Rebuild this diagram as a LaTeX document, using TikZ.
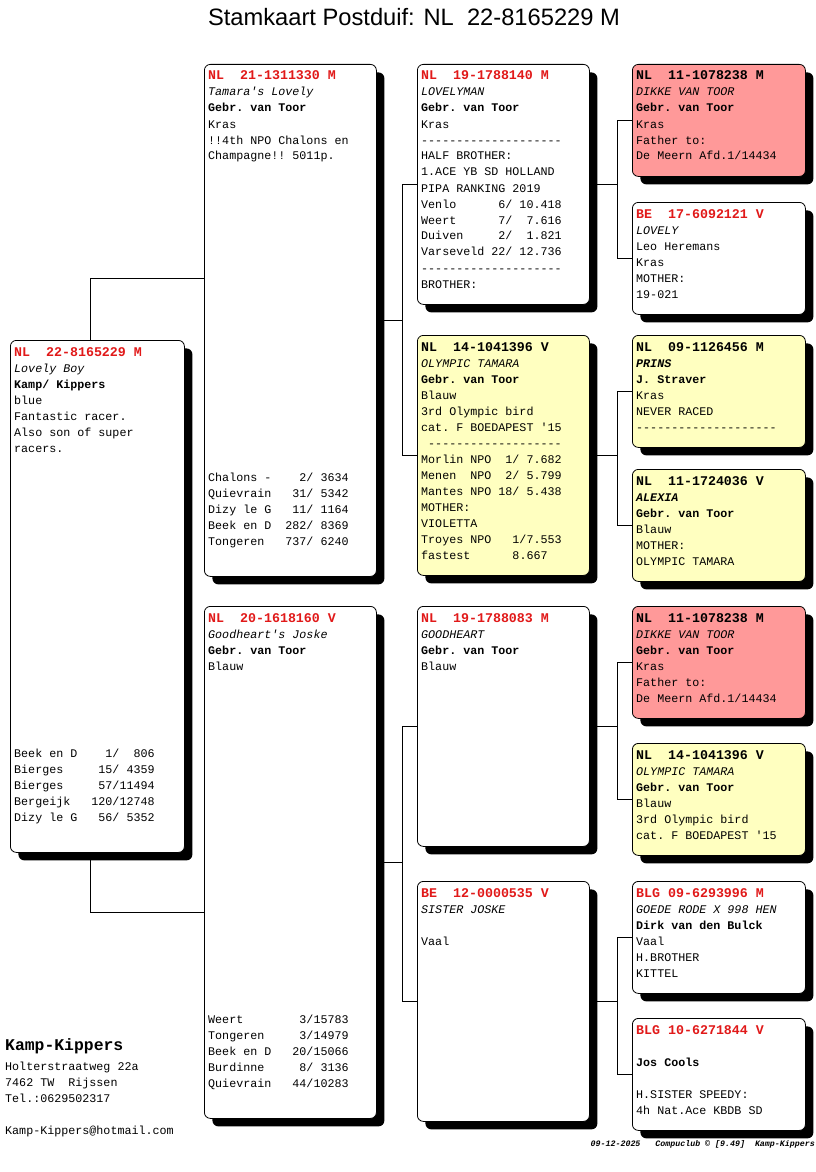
\documentclass[tikz,border=0pt]{standalone}
\usepackage{fontspec}
\usetikzlibrary{shadows,backgrounds}
\newfontfamily\cour{Liberation Mono}
\newfontfamily\arial{Liberation Sans}
\definecolor{ringred}{RGB}{225,25,25}
\definecolor{cockred}{RGB}{255,153,153}
\definecolor{henyellow}{RGB}{255,255,192}

\newcommand\hd{\fontsize{13.3}{16}\selectfont\bfseries}
\newcommand\ring[1]{{\color{ringred}\hd #1}}
\newcommand\ringbk[1]{{\hd #1}}
\newcommand\lines[1]{\parbox[t]{190pt}{\raggedright\frenchspacing\leavevmode #1}}
\newcommand\results[1]{\parbox[b]{190pt}{\raggedright\frenchspacing\leavevmode #1}}

\begin{document}
\begin{tikzpicture}[x=1pt,y=-1pt]
\tikzset{
card/.style={rectangle, rounded corners=6pt, draw=black, line width=0.8pt, fill=white, anchor=north west, inner sep=0pt,
  drop shadow={shadow xshift=8pt, shadow yshift=-8pt, fill=black, opacity=1}},
cock/.style={card, fill=cockred},
hen/.style={card, fill=henyellow},
bigcard/.style={minimum width=172pt, minimum height=512pt},
midcard/.style={minimum width=172pt, minimum height=240pt},
smallcard/.style={minimum width=173pt, minimum height=112pt},
txt/.style={inner sep=0pt, anchor=base west, font=\cour\fontsize{11.7}{16}\selectfont},
link/.style={draw=black, line width=0.8pt},
}
\useasboundingbox (0,0) rectangle (816,1172);

\node[anchor=base, font=\arial\fontsize{23.7}{28}\selectfont] (title) at (414,26) {Stamkaart Postduif: NL\ \ 22-8165229 M};

% pigeon
\node[card, bigcard, minimum width=174pt] (me) at (10,340) {};
\node[txt] (me txt) at ([xshift=4pt,yshift=-16pt]me.north west) {\lines{\ring{NL~~22-8165229 M}\\
 {\itshape Lovely Boy}\\ {\bfseries Kamp/ Kippers}\\ blue\\ Fantastic racer.\\ Also son of super\\ racers.}};
\node[txt] (me res) at ([xshift=4pt,yshift=31pt]me.south west) {\results{Beek en D~~~~1/~~806\\
 Bierges~~~~~15/ 4359\\ Bierges~~~~~57/11494\\ Bergeijk~~~120/12748\\ Dizy le G~~~56/ 5352}};

% parents
\node[card, bigcard] (sire) at (204,64) {};
\node[txt] (sire txt) at ([xshift=4pt,yshift=-16pt]sire.north west) {\lines{\ring{NL~~21-1311330 M}\\
 {\itshape Tamara's Lovely}\\ {\bfseries Gebr. van Toor}\\ Kras\\ !!4th NPO Chalons en\\ Champagne!! 5011p.}};
\node[txt] (sire res) at ([xshift=4pt,yshift=31pt]sire.south west) {\results{Chalons -~~~~2/ 3634\\
 Quievrain~~~31/ 5342\\ Dizy le G~~~11/ 1164\\ Beek en D~~282/ 8369\\ Tongeren~~~737/ 6240}};

\node[card, bigcard] (dam) at (204,606) {};
\node[txt] (dam txt) at ([xshift=4pt,yshift=-16pt]dam.north west) {\lines{\ring{NL~~20-1618160 V}\\
 {\itshape Goodheart's Joske}\\ {\bfseries Gebr. van Toor}\\ Blauw}};
\node[txt] (dam res) at ([xshift=4pt,yshift=31pt]dam.south west) {\results{Weert~~~~~~~~3/15783\\
 Tongeren~~~~~3/14979\\ Beek en D~~~20/15066\\ Burdinne~~~~~8/ 3136\\ Quievrain~~~44/10283}};

% grandparents
\node[card, midcard] (ss) at (417,64) {};
\node[txt] (ss txt) at ([xshift=4pt,yshift=-16pt]ss.north west) {\lines{\ring{NL~~19-1788140 M}\\
 {\itshape LOVELYMAN}\\ {\bfseries Gebr. van Toor}\\ Kras\\ --------------------\\ HALF BROTHER:\\
 1.ACE YB SD HOLLAND\\ PIPA RANKING 2019\\ Venlo~~~~~~6/ 10.418\\ Weert~~~~~~7/~~7.616\\
 Duiven~~~~~2/~~1.821\\ Varseveld 22/ 12.736\\ --------------------\\ BROTHER:}};

\node[hen, midcard] (sd) at (417,335) {};
\node[txt] (sd txt) at ([xshift=4pt,yshift=-16pt]sd.north west) {\lines{\ringbk{NL~~14-1041396 V}\\
 {\itshape OLYMPIC TAMARA}\\ {\bfseries Gebr. van Toor}\\ Blauw\\ 3rd Olympic bird\\ cat. F BOEDAPEST '15\\
 \hphantom{-}-------------------\\ Morlin NPO~~1/ 7.682\\ Menen~~NPO~~2/ 5.799\\ Mantes NPO 18/ 5.438\\
 MOTHER:\\ VIOLETTA\\ Troyes NPO~~~1/7.553\\ fastest~~~~~~8.667}};

\node[card, midcard] (ds) at (417,606) {};
\node[txt] (ds txt) at ([xshift=4pt,yshift=-16pt]ds.north west) {\lines{\ring{NL~~19-1788083 M}\\
 {\itshape GOODHEART}\\ {\bfseries Gebr. van Toor}\\ Blauw}};

\node[card, midcard] (dd) at (417,881) {};
\node[txt] (dd txt) at ([xshift=4pt,yshift=-16pt]dd.north west) {\lines{\ring{BE~~12-0000535 V}\\
 {\itshape SISTER JOSKE}\\ \strut\\ Vaal}};

% great-grandparents
\node[cock, smallcard] (sss) at (632,64) {};
\node[txt] (sss txt) at ([xshift=4pt,yshift=-16pt]sss.north west) {\lines{\ringbk{NL~~11-1078238 M}\\
 {\itshape DIKKE VAN TOOR}\\ {\bfseries Gebr. van Toor}\\ Kras\\ Father to:\\ De Meern Afd.1/14434}};

\node[card, smallcard] (ssd) at (632,202) {};
\node[txt] (ssd txt) at ([xshift=4pt,yshift=-16pt]ssd.north west) {\lines{\ring{BE~~17-6092121 V}\\
 {\itshape LOVELY}\\ Leo Heremans\\ Kras\\ MOTHER:\\ 19-021}};

\node[hen, smallcard] (sds) at (632,335) {};
\node[txt] (sds txt) at ([xshift=4pt,yshift=-16pt]sds.north west) {\lines{\ringbk{NL~~09-1126456 M}\\
 {\bfseries\itshape PRINS}\\ {\bfseries J. Straver}\\ Kras\\ NEVER RACED\\ --------------------}};

\node[hen, smallcard] (sdd) at (632,469) {};
\node[txt] (sdd txt) at ([xshift=4pt,yshift=-16pt]sdd.north west) {\lines{\ringbk{NL~~11-1724036 V}\\
 {\bfseries\itshape ALEXIA}\\ {\bfseries Gebr. van Toor}\\ Blauw\\ MOTHER:\\ OLYMPIC TAMARA}};

\node[cock, smallcard] (dss) at (632,606) {};
\node[txt] (dss txt) at ([xshift=4pt,yshift=-16pt]dss.north west) {\lines{\ringbk{NL~~11-1078238 M}\\
 {\itshape DIKKE VAN TOOR}\\ {\bfseries Gebr. van Toor}\\ Kras\\ Father to:\\ De Meern Afd.1/14434}};

\node[hen, smallcard] (dsd) at (632,743) {};
\node[txt] (dsd txt) at ([xshift=4pt,yshift=-16pt]dsd.north west) {\lines{\ringbk{NL~~14-1041396 V}\\
 {\itshape OLYMPIC TAMARA}\\ {\bfseries Gebr. van Toor}\\ Blauw\\ 3rd Olympic bird\\ cat. F BOEDAPEST '15}};

\node[card, smallcard] (dds) at (632,881) {};
\node[txt] (dds txt) at ([xshift=4pt,yshift=-16pt]dds.north west) {\lines{\ring{BLG 09-6293996 M}\\
 {\itshape GOEDE RODE X 998 HEN}\\ {\bfseries Dirk van den Bulck}\\ Vaal\\ H.BROTHER\\ KITTEL}};

\node[card, smallcard] (ddd) at (632,1018) {};
\node[txt] (ddd txt) at ([xshift=4pt,yshift=-16pt]ddd.north west) {\lines{\ring{BLG 10-6271844 V}\\
 \strut\\ {\bfseries Jos Cools}\\ \strut\\ H.SISTER SPEEDY:\\ 4h Nat.Ace KBDB SD}};

% connectors
\begin{pgfonlayer}{background}
\draw[link] ([xshift=-7pt]me.north) |- ([yshift=42pt]sire.west);
\draw[link] ([xshift=-7pt]me.south) |- ([yshift=-50pt]dam.west);
\draw[link] (sire.east) -- ++(26,0) |- (ss.west);
\draw[link] (sire.east) -- ++(26,0) |- (sd.west);
\draw[link] (dam.east) -- ++(26,0) |- (ds.west);
\draw[link] (dam.east) -- ++(26,0) |- (dd.west);
\draw[link] (ss.east) -- ++(28,0) |- (sss.west);
\draw[link] (ss.east) -- ++(28,0) |- (ssd.west);
\draw[link] (sd.east) -- ++(28,0) |- (sds.west);
\draw[link] (sd.east) -- ++(28,0) |- (sdd.west);
\draw[link] (ds.east) -- ++(28,0) |- (dss.west);
\draw[link] (ds.east) -- ++(28,0) |- (dsd.west);
\draw[link] (dd.east) -- ++(28,0) |- (dds.west);
\draw[link] (dd.east) -- ++(28,0) |- (ddd.west);
\end{pgfonlayer}

% owner
\node[txt, font=\cour\fontsize{16.4}{18}\selectfont\bfseries] (owner) at (5,1050) {Kamp-Kippers};
\node[txt] (address) at (5,1070) {\lines{Holterstraatweg 22a\\ 7462 TW~~Rijssen\\ Tel.:0629502317\\ \strut\\ Kamp-Kippers@hotmail.com}};
\node[inner sep=0pt, anchor=base east, font=\cour\fontsize{8.3}{10}\selectfont\bfseries\itshape] (stamp) at (815,1146) {09-12-2025~~~Compuclub © [9.49]~~Kamp-Kippers};
\end{tikzpicture}
\end{document}
